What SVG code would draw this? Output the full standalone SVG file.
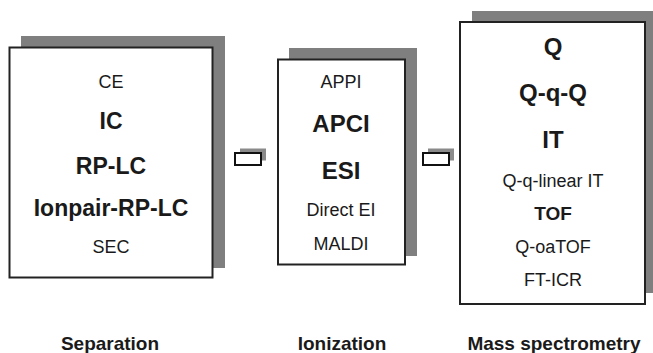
<svg xmlns="http://www.w3.org/2000/svg" width="653" height="353" viewBox="0 0 653 353">
<style>
.shadow{fill:#7f7f7f;}
.box{fill:#fff;stroke:#222;stroke-width:2;}
.cshadow{fill:#8a8a8a;}
.conn{fill:#fff;stroke:#111;stroke-width:2;}
text{font-family:"Liberation Sans",Arial,sans-serif;fill:#1a1a1a;text-anchor:middle;}
.r{font-size:18px;}
.b{font-size:23px;font-weight:bold;}
.bm{font-size:19px;font-weight:bold;}
</style>
<rect width="653" height="353" fill="#fff"/>
<g id="separation">
<rect class="shadow" x="21" y="36" width="204" height="232"/>
<rect class="box" x="9.5" y="47.5" width="203" height="230"/>
<text class="r" x="111" y="88">CE</text>
<text class="b" x="111" y="129">IC</text>
<text class="b" x="111" y="174">RP-LC</text>
<text class="b" x="111" y="216">Ionpair-RP-LC</text>
<text class="r" x="111" y="253">SEC</text>
</g>
<g id="ionization">
<rect class="shadow" x="289" y="48" width="128" height="208"/>
<rect class="box" x="278" y="59.5" width="127" height="205"/>
<text class="r" x="341" y="88">APPI</text>
<text class="b" x="341" y="132" style="font-size:24px">APCI</text>
<text class="b" x="341" y="179" style="font-size:24px">ESI</text>
<text class="r" x="341" y="216">Direct EI</text>
<text class="r" x="341" y="250">MALDI</text>
</g>
<g id="massspec">
<rect class="shadow" x="472" y="11" width="185" height="282"/>
<rect class="box" x="460" y="22" width="185" height="282"/>
<text class="b" x="553" y="55" style="font-size:24px">Q</text>
<text class="b" x="553" y="101" style="font-size:24px">Q-q-Q</text>
<text class="b" x="553" y="148" style="font-size:24px">IT</text>
<text class="r" x="553" y="187">Q-q-linear IT</text>
<text class="bm" x="553" y="220">TOF</text>
<text class="r" x="553" y="253">Q-oaTOF</text>
<text class="r" x="553" y="286">FT-ICR</text>
</g>
<g id="connectors">
<rect class="cshadow" x="240" y="148.5" width="26" height="12"/>
<rect class="conn" x="235" y="153" width="26" height="12"/>
<rect class="cshadow" x="428" y="148.5" width="26" height="12"/>
<rect class="conn" x="423" y="153" width="26" height="12"/>
</g>
<g id="labels">
<text class="bm" x="110" y="350">Separation</text>
<text class="bm" x="342" y="350">Ionization</text>
<text class="bm" x="554" y="350">Mass spectrometry</text>
</g>
</svg>
